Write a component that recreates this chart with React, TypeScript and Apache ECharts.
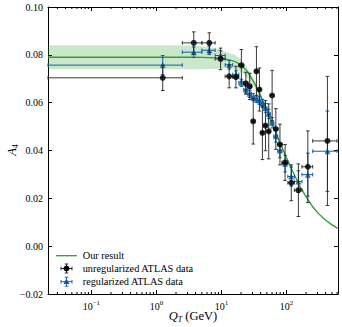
import React, { useEffect, useRef } from "react";
import * as echarts from "echarts";

// ---- axis ranges ----
const X_MIN = 0.0215;
const X_MAX = 620;
const Y_MIN = -0.02;
const Y_MAX = 0.1;
const Y_STEP = 0.02;

// ---- ATLAS Q_T bins ----
const binEdges = [0, 2.5, 5, 8, 11.4, 14.9, 18.5, 22, 25.5, 29, 32.6, 36.4, 40.4, 44.9, 50.2, 56.4, 63.9, 73.4, 85.4, 105, 132, 173, 253, 600];

// unregularized ATLAS data
const unregA4 = [0.0704, 0.085, 0.085, 0.0783, 0.071, 0.0707, 0.0756, 0.0681, 0.0668, 0.0522, 0.0731, 0.0655, 0.0474, 0.0504, 0.048, 0.063, 0.049, 0.0425, 0.035, 0.0265, 0.0234, 0.0332, 0.044];
const unregErr = [0.0053, 0.0046, 0.0042, 0.0045, 0.0048, 0.0045, 0.0066, 0.0046, 0.0055, 0.0095, 0.0103, 0.009, 0.0112, 0.0105, 0.0115, 0.0105, 0.0085, 0.0085, 0.0075, 0.0075, 0.011, 0.015, 0.027];

// regularized ATLAS data
const regA4 = [0.0757, 0.0811, 0.0819, 0.0797, 0.0758, 0.0718, 0.0683, 0.0655, 0.0637, 0.0623, 0.0616, 0.0609, 0.0597, 0.0578, 0.0553, 0.0516, 0.046, 0.04, 0.0345, 0.0291, 0.027, 0.0299, 0.0397];
const regErr = [0.004, 0.0022, 0.0018, 0.002, 0.0018, 0.0015, 0.0015, 0.0015, 0.0015, 0.0015, 0.0015, 0.0016, 0.0017, 0.0018, 0.002, 0.0022, 0.0025, 0.003, 0.0035, 0.004, 0.0045, 0.009, 0.0168];

// our result (curve + uncertainty band)
const curveQT = [0.0215, 1, 3.2, 5, 6.3, 7.9, 10, 12.6, 15.8, 20, 25, 31.6, 40, 50, 63, 79, 100, 126, 158, 200, 251, 316, 398, 501, 620];
const curveA4 = [0.079, 0.079, 0.079, 0.0789, 0.0788, 0.0787, 0.0785, 0.078, 0.0773, 0.0758, 0.0731, 0.0686, 0.063, 0.0567, 0.05, 0.0433, 0.037, 0.031, 0.0254, 0.0206, 0.0166, 0.0134, 0.0109, 0.0089, 0.0074];
const bandHi = [0.084, 0.084, 0.0839, 0.0836, 0.0833, 0.0828, 0.082, 0.0808, 0.08, 0.0782, 0.0745, 0.0698, 0.0641, 0.0576, 0.0508, 0.044, 0.0376, 0.0315, 0.0258, 0.0209, 0.0169, 0.0136, 0.0111, 0.0091, 0.0076];
const bandLo = [0.074, 0.074, 0.074, 0.074, 0.0741, 0.0741, 0.0743, 0.0744, 0.074, 0.0728, 0.0703, 0.0666, 0.0617, 0.0558, 0.0492, 0.0426, 0.0364, 0.0305, 0.025, 0.0203, 0.0163, 0.0132, 0.0107, 0.0087, 0.0072];

const legendLabels = ["Our result", "unregularized ATLAS data", "regularized ATLAS data"];

const GREEN = "#2ca02c";
const BLACK = "#000000";
const BLUE = "#0C5DA5";
const FONT = "'Liberation Serif', 'Times New Roman', serif";

function errData(vals: number[], errs: number[]) {
  return vals.map((v, i) => {
    const lo = binEdges[i];
    const hi = binEdges[i + 1];
    const xc = (lo + hi) / 2;
    return [xc, v, Math.max(lo, X_MIN), hi, v - errs[i], v + errs[i]];
  });
}

function errRender(color: string, cap: number, lw: number) {
  return (params: any, api: any) => {
    const xc = api.value(0), y = api.value(1), xl = api.value(2), xh = api.value(3), yl = api.value(4), yh = api.value(5);
    const pL = api.coord([xl, y]);
    const pR = api.coord([xh, y]);
    const pB = api.coord([xc, yl]);
    const pT = api.coord([xc, yh]);
    const style = { stroke: color, lineWidth: lw, fill: null };
    return {
      type: "group",
      children: [
        { type: "line", shape: { x1: pL[0], y1: pL[1], x2: pR[0], y2: pR[1] }, style },
        { type: "line", shape: { x1: pB[0], y1: pB[1], x2: pT[0], y2: pT[1] }, style },
        { type: "line", shape: { x1: pL[0], y1: pL[1] - cap, x2: pL[0], y2: pL[1] + cap }, style },
        { type: "line", shape: { x1: pR[0], y1: pR[1] - cap, x2: pR[0], y2: pR[1] + cap }, style },
        { type: "line", shape: { x1: pB[0] - cap, y1: pB[1], x2: pB[0] + cap, y2: pB[1] }, style },
        { type: "line", shape: { x1: pT[0] - cap, y1: pT[1], x2: pT[0] + cap, y2: pT[1] }, style },
      ],
    };
  };
}

function minorTicks() {
  const out: number[][] = [];
  for (let k = -2; k <= 2; k++) {
    for (let m = 2; m <= 9; m++) {
      const v = m * Math.pow(10, k);
      if (v > X_MIN && v < X_MAX) out.push([v, Y_MIN]);
    }
  }
  return out;
}

export default function App() {
  const ref = useRef<HTMLDivElement>(null);
  useEffect(() => {
    if (!ref.current) return;
    const chart = echarts.init(ref.current, null, { renderer: "svg" });

    const xLabelFmt = (v: number) => {
      const l = Math.log10(v);
      const e = Math.round(l);
      if (Math.abs(l - e) > 1e-6) return "";
      return `{b|10}{s|${e < 0 ? "\u2212" + -e : e}}`;
    };

    const axisCommonX = {
      type: "log",
      logBase: 10,
      min: X_MIN,
      max: X_MAX,
      splitLine: { show: false },
      axisLine: { show: true, onZero: false, lineStyle: { color: BLACK, width: 1 } },
      axisTick: { show: true, inside: true, length: 4, lineStyle: { color: BLACK, width: 1 } },
    };
    const axisCommonY = {
      type: "value",
      min: Y_MIN,
      max: Y_MAX,
      interval: Y_STEP,
      splitLine: { show: false },
      axisLine: { show: true, onZero: false, lineStyle: { color: BLACK, width: 1 } },
      axisTick: { show: true, inside: true, length: 4, lineStyle: { color: BLACK, width: 1 } },
    };

    const legX = 66.5;
    const legY = [255.7, 268.5, 281.7];
    const ebLine = (x1: number, y1: number, x2: number, y2: number, c: string) => ({
      type: "line",
      shape: { x1, y1, x2, y2 },
      style: { stroke: c, lineWidth: 0.95 },
    });
    const legendErr = (y: number, c: string) => [
      ebLine(61, y, 72, y, c),
      ebLine(legX, y - 4.5, legX, y + 4.5, c),
      ebLine(legX - 1.8, y - 4.5, legX + 1.8, y - 4.5, c),
      ebLine(legX - 1.8, y + 4.5, legX + 1.8, y + 4.5, c),
      ebLine(61, y - 1.8, 61, y + 1.8, c),
      ebLine(72, y - 1.8, 72, y + 1.8, c),
    ];

    chart.setOption({
      animation: false,
      grid: { left: 48, top: 7, right: 4, bottom: 33, containLabel: false },
      xAxis: [
        {
          ...axisCommonX,
          position: "bottom",
          axisLabel: {
            show: true,
            margin: 5,
            showMinLabel: false,
            showMaxLabel: false,
            formatter: xLabelFmt,
            color: BLACK,
            fontFamily: FONT,
            rich: {
              b: { fontSize: 10, fontFamily: FONT, color: BLACK, verticalAlign: "bottom" },
              s: { fontSize: 7, fontFamily: FONT, color: BLACK, verticalAlign: "bottom", padding: [0, 0, 5, 0] },
            },
          },
        },
        { ...axisCommonX, position: "top", axisLabel: { show: false } },
      ],
      yAxis: [
        {
          ...axisCommonY,
          position: "left",
          axisLabel: {
            show: true,
            margin: 5,
            color: BLACK,
            fontSize: 10,
            fontFamily: FONT,
            formatter: (v: number) => (v < -1e-9 ? "\u2212" : "") + Math.abs(v).toFixed(2),
          },
        },
        { ...axisCommonY, position: "right", axisLabel: { show: false } },
      ],
      series: [
        {
          type: "custom",
          name: "band",
          xAxisIndex: 0,
          yAxisIndex: 0,
          data: curveQT.map((x, i) => [x, curveA4[i]]),
          encode: { x: 0, y: 1 },
          renderItem: (params: any, api: any) => {
            if (params.dataIndex !== 0) return null;
            const pts: number[][] = [];
            for (let i = 0; i < curveQT.length; i++) pts.push(api.coord([curveQT[i], bandHi[i]]));
            for (let i = curveQT.length - 1; i >= 0; i--) pts.push(api.coord([curveQT[i], bandLo[i]]));
            return {
              type: "polygon",
              shape: { points: pts },
              style: { fill: GREEN, opacity: 0.25, stroke: null },
            };
          },
          z: 1,
        },
        {
          type: "custom",
          name: "minorTicks",
          xAxisIndex: 0,
          yAxisIndex: 0,
          data: minorTicks(),
          encode: { x: 0, y: 1 },
          clip: false,
          renderItem: (params: any, api: any) => {
            const b = api.coord([api.value(0), Y_MIN]);
            const t = api.coord([api.value(0), Y_MAX]);
            const style = { stroke: BLACK, lineWidth: 1 };
            return {
              type: "group",
              children: [
                { type: "line", shape: { x1: b[0], y1: b[1], x2: b[0], y2: b[1] - 2 }, style },
                { type: "line", shape: { x1: t[0], y1: t[1], x2: t[0], y2: t[1] + 2 }, style },
              ],
            };
          },
          z: 5,
        },
        {
          type: "line",
          name: legendLabels[0],
          data: curveQT.map((x, i) => [x, curveA4[i]]),
          smooth: false,
          showSymbol: false,
          symbol: "none",
          lineStyle: { color: GREEN, width: 1.3 },
          z: 2,
        },
        {
          type: "custom",
          name: "regErr",
          data: errData(regA4, regErr),
          encode: { x: [0, 2, 3], y: [1, 4, 5] },
          renderItem: errRender(BLUE, 1.8, 1),
          z: 3,
        },
        {
          type: "scatter",
          name: legendLabels[2],
          data: regA4.map((v, i) => [(binEdges[i] + binEdges[i + 1]) / 2, v]),
          symbol: "triangle",
          symbolSize: 6,
          itemStyle: { color: BLUE },
          z: 4,
        },
        {
          type: "custom",
          name: "unregErr",
          data: errData(unregA4, unregErr),
          encode: { x: [0, 2, 3], y: [1, 4, 5] },
          renderItem: errRender("#222222", 1.8, 0.9),
          z: 5,
        },
        {
          type: "scatter",
          name: legendLabels[1],
          data: unregA4.map((v, i) => [(binEdges[i] + binEdges[i + 1]) / 2, v]),
          symbol: "circle",
          symbolSize: 6,
          itemStyle: { color: BLACK },
          z: 6,
        },
      ],
      graphic: [
        // axis titles
        {
          type: "text",
          x: 193,
          y: 316.5,
          style: {
            text: "{i|Q}{s|T}{n| (GeV)}",
            textAlign: "center",
            textVerticalAlign: "middle",
            rich: {
              i: { fontSize: 12.5, fontFamily: FONT, fontStyle: "italic", fill: BLACK, verticalAlign: "top", lineHeight: 14 },
              s: { fontSize: 8, fontFamily: FONT, fontStyle: "italic", fill: BLACK, verticalAlign: "top", padding: [6, 0, 0, 0], lineHeight: 9 },
              n: { fontSize: 12.5, fontFamily: FONT, fill: BLACK, verticalAlign: "top", lineHeight: 14 },
            },
          },
        },
        {
          type: "text",
          x: 12,
          y: 150,
          rotation: Math.PI / 2,
          style: {
            text: "{i|A}{s|4}",
            textAlign: "center",
            textVerticalAlign: "middle",
            rich: {
              i: { fontSize: 12.5, fontFamily: FONT, fontStyle: "italic", fill: BLACK, verticalAlign: "top", lineHeight: 14 },
              s: { fontSize: 8, fontFamily: FONT, fill: BLACK, verticalAlign: "top", padding: [6, 0, 0, 0], lineHeight: 9 },
            },
          },
        },
        // legend
        { type: "line", shape: { x1: 56, y1: legY[0], x2: 77, y2: legY[0] }, style: { stroke: GREEN, lineWidth: 1.3 } },
        ...legendErr(legY[1], "#222222"),
        { type: "circle", shape: { cx: legX, cy: legY[1], r: 3 }, style: { fill: BLACK } },
        ...legendErr(legY[2], BLUE),
        { type: "polygon", shape: { points: [[legX, legY[2] - 3.2], [legX - 3, legY[2] + 2.2], [legX + 3, legY[2] + 2.2]] }, style: { fill: BLUE } },
        ...legendLabels.map((t, i) => ({
          type: "text",
          x: 82.7,
          y: legY[i],
          style: { text: t, fontSize: 10.3, fontFamily: FONT, fill: BLACK, textAlign: "left", textVerticalAlign: "middle" },
        })),
      ],
    });
    return () => chart.dispose();
  }, []);

  return (
    <div
      ref={ref}
      style={{ position: "fixed", left: 0, top: 0, width: 342, height: 327, background: "#ffffff" }}
    />
  );
}
